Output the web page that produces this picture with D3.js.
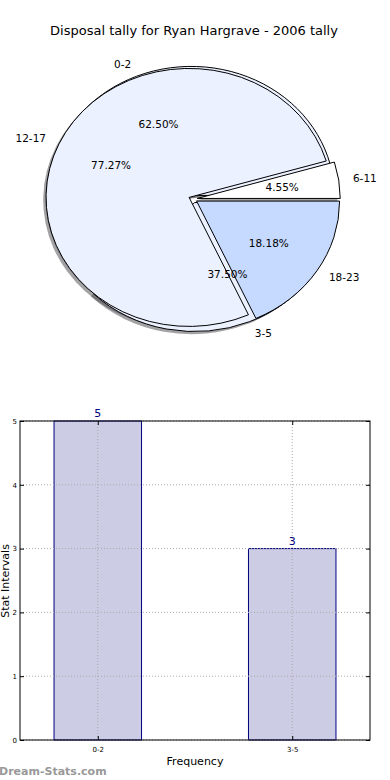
<!DOCTYPE html>
<html><head><meta charset="utf-8">
<script src="https://cdn.jsdelivr.net/npm/d3@7/dist/d3.min.js"></script>
<style>
body{margin:0;background:#fff;}
svg{display:block;font-family:"DejaVu Sans",sans-serif;}
</style></head>
<body><svg id="c" width="390" height="780"></svg>
<script>
const title = "Disposal tally for Ryan Hargrave - 2006 tally";
// Pie 1
const pie1Labels = ["0-2", "3-5"];
const pie1Values = [5, 3];
const pie1Colors = ["#ebf1ff", "#ebf1ff"];
// Pie 2
const pie2Labels = ["6-11", "12-17", "18-23"];
const pie2Values = [1, 17, 4];
const pie2Colors = ["#ffffff", "#ebf1ff", "#c6d9ff"];
const explode = 0.03;
// Bar chart
const barCategories = ["0-2", "3-5"];
const barValues = [5, 3];
const yTicks = [0, 1, 2, 3, 4, 5];

const svg = d3.select("#c");
svg.append("text").attr("x", 194).attr("y", 35).attr("text-anchor", "middle")
  .attr("font-size", 13).attr("fill", "#000").text(title);

// ---- Pie ----
const cx = 193, cy = 199, rx = 143, ry = 129;
function wedges(values) {
  const tot = d3.sum(values);
  let acc = 0;
  return values.map((v, i) => {
    const t1 = acc / tot * 2 * Math.PI; acc += v;
    const t2 = acc / tot * 2 * Math.PI;
    const tm = (t1 + t2) / 2;
    return {i, v, t1, t2, tm, frac: v / tot,
      ox: explode * rx * Math.cos(tm), oy: -explode * ry * Math.sin(tm)};
  });
}
const arcGen = d3.arc().innerRadius(0).outerRadius(1);
const w1 = wedges(pie1Values), w2 = wedges(pie2Values);
const pieG = svg.append("g");
const textG = svg.append("g");
function drawShadows(ws, colors) {
  ws.forEach(w => {
    const c = d3.color(colors[w.i]);
    const sc = d3.rgb(c.r * 0.3, c.g * 0.3, c.b * 0.3);
    pieG.append("path")
      .attr("transform", `translate(${cx + w.ox - 0.02 * rx},${cy + w.oy + 0.02 * ry}) scale(${rx},${ry})`)
      .attr("d", arcGen({startAngle: Math.PI / 2 - w.t2, endAngle: Math.PI / 2 - w.t1}))
      .attr("fill", sc).attr("fill-opacity", 0.5).attr("stroke", "none");
  });
}
function drawWedges(ws, colors) {
  ws.forEach(w => {
    pieG.append("path")
      .attr("transform", `translate(${cx + w.ox},${cy + w.oy}) scale(${rx},${ry})`)
      .attr("d", arcGen({startAngle: Math.PI / 2 - w.t2, endAngle: Math.PI / 2 - w.t1}))
      .attr("fill", colors[w.i]).attr("stroke", "#000").attr("stroke-width", 1)
      .attr("vector-effect", "non-scaling-stroke").attr("stroke-linejoin", "miter");
  });
}
function drawLabels(ws, labels) {
  ws.forEach(w => {
    const c = Math.cos(w.tm), s = Math.sin(w.tm);
    const lx = cx + w.ox + 1.1 * rx * c, ly = cy + w.oy - 1.1 * ry * s;
    textG.append("text").attr("x", lx).attr("y", ly).attr("dy", "0.35em")
      .attr("text-anchor", c > 0 ? "start" : "end").attr("font-size", 10.5).text(labels[w.i]);
    const px = cx + w.ox + 0.6 * rx * c, py = cy + w.oy - 0.6 * ry * s;
    textG.append("text").attr("x", px).attr("y", py).attr("dy", "0.35em")
      .attr("text-anchor", "middle").attr("font-size", 10.5).text((w.frac * 100).toFixed(2) + "%");
  });
}
drawShadows(w1, pie1Colors);
drawShadows(w2, pie2Colors);
drawWedges(w1, pie1Colors);
drawWedges(w2, pie2Colors);
drawLabels(w1, pie1Labels);
drawLabels(w2, pie2Labels);
textG.raise();

// ---- Bar ----
const L = 20, R = 370, T = 421, B = 740;
const x = d3.scaleLinear().domain([-0.4, 1.4]).range([L, R]);
const y = d3.scaleLinear().domain([0, 5]).range([B, T]);
const bw = 0.45;
const bg = svg.append("g");
yTicks.forEach(t => {
  bg.append("line").attr("x1", L).attr("x2", R).attr("y1", y(t)).attr("y2", y(t))
    .attr("stroke", "#aaa").attr("stroke-dasharray", "1,2");
});
barCategories.forEach((c, i) => {
  bg.append("line").attr("x1", x(i)).attr("x2", x(i)).attr("y1", T).attr("y2", B)
    .attr("stroke", "#aaa").attr("stroke-dasharray", "1,2");
});
barValues.forEach((v, i) => {
  bg.insert("rect", ":first-child").attr("x", x(i - bw / 2)).attr("width", x(i + bw / 2) - x(i - bw / 2))
    .attr("y", y(v)).attr("height", y(0) - y(v))
    .attr("fill", "#ccccE5").attr("stroke", "#000080").attr("stroke-width", 1);
  bg.append("text").attr("x", x(i)).attr("y", y(v) - 4).attr("text-anchor", "middle")
    .attr("font-size", 11).attr("fill", "#000080").text(v);
});
bg.append("rect").attr("x", L).attr("y", T).attr("width", R - L).attr("height", B - T)
  .attr("fill", "none").attr("stroke", "#000").attr("stroke-width", 1);
const yAxis = d3.axisLeft(y).tickValues(yTicks).tickFormat(d3.format("d")).tickSizeInner(-4).tickSizeOuter(0).tickPadding(3);
const ga = svg.append("g").attr("transform", `translate(${L},0)`).call(yAxis);
const yAxisR = d3.axisRight(y).tickValues(yTicks).tickSizeInner(-4).tickSizeOuter(0).tickFormat("");
const gr = svg.append("g").attr("transform", `translate(${R},0)`).call(yAxisR);
const xAxis = d3.axisBottom(x).tickValues([0, 1]).tickFormat((d) => barCategories[d])
  .tickSizeInner(-4).tickSizeOuter(0).tickPadding(6);
const gx = svg.append("g").attr("transform", `translate(0,${B})`).call(xAxis);
const xAxisT = d3.axisTop(x).tickValues([0, 1]).tickFormat("").tickSizeInner(-4).tickSizeOuter(0);
const gt = svg.append("g").attr("transform", `translate(0,${T})`).call(xAxisT);
[ga, gr, gx, gt].forEach(g => {
  g.select(".domain").remove();
  g.selectAll("text").attr("font-size", 7).attr("font-family", "DejaVu Sans").attr("fill", "#000");
  g.selectAll("line").attr("stroke", "#000");
});
gx.selectAll("text").attr("dy", "0.9em");
svg.append("text").attr("x", 195).attr("y", 765).attr("text-anchor", "middle")
  .attr("font-size", 11).text("Frequency");
svg.append("text").attr("transform", "translate(5.5,581) rotate(-90)").attr("text-anchor", "middle")
  .attr("dy", "0.35em").attr("font-size", 11).text("Stat Intervals");
svg.append("text").attr("x", -1).attr("y", 775).attr("font-size", 11).attr("font-weight", "bold")
  .attr("fill", "#999").text("Dream-Stats.com");
</script></body></html>
